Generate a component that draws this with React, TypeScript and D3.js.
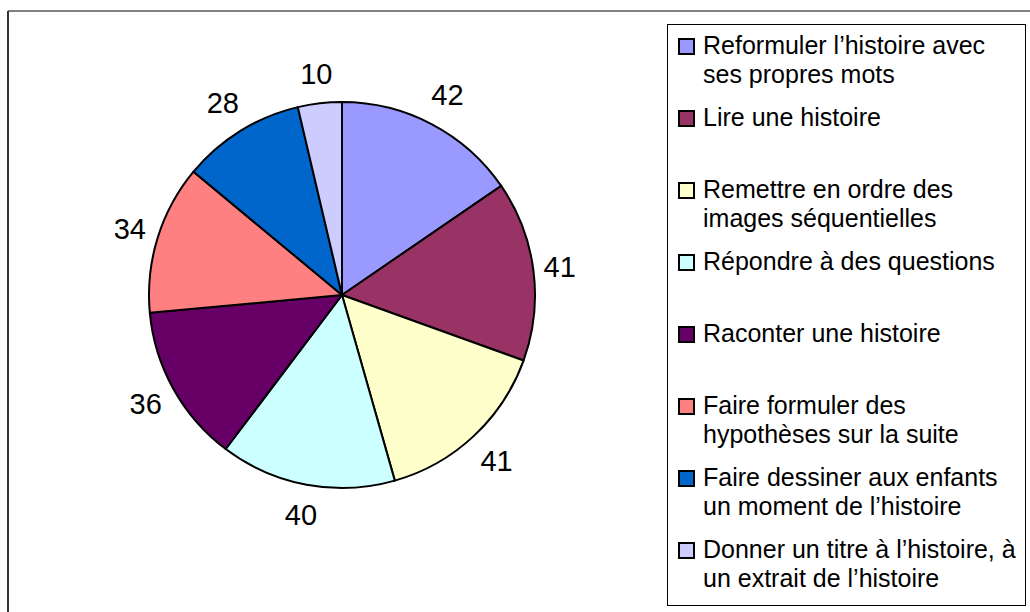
import React from "react";
import * as d3 from "d3";

const categories = [
  ["Reformuler l’histoire avec", "ses propres mots"],
  ["Lire une histoire"],
  ["Remettre en ordre des", "images séquentielles"],
  ["Répondre à des questions"],
  ["Raconter une histoire"],
  ["Faire formuler des", "hypothèses sur la suite"],
  ["Faire dessiner aux enfants", "un moment de l’histoire"],
  ["Donner un titre à l’histoire, à", "un extrait de l’histoire"],
];
const values = [42, 41, 41, 40, 36, 34, 28, 10];
const colors = ["#9999FF", "#993366", "#FFFFCC", "#CCFFFF", "#660066", "#FF8080", "#0066CC", "#CCCCFF"];

export default function App() {
  const cx = 342;
  const cy = 295;
  const r = 193;
  const pie = d3.pie<number>().sort(null).value((d) => d);
  const arcs = pie(values);
  const arcGen = d3.arc<d3.PieArcDatum<number>>().innerRadius(0).outerRadius(r);
  const gap = 8;
  const boxHalfW = 16;
  const boxHalfH = 20;
  const font = "Arial, 'Liberation Sans', sans-serif";

  const legendX = 667;
  const legendY = 24;
  const entryStep = 72;
  const firstBaseline = 54;
  const lineH = 29;

  return (
    <svg
      width={1030}
      height={612}
      style={{ position: "absolute", left: 0, top: 0, background: "#fff" }}
      fontFamily={font}
    >
      <rect x={0} y={0} width={1030} height={612} fill="#fff" />
      <line x1={8} y1={11} x2={1030} y2={11} stroke="#000" strokeWidth={1} />
      <line x1={8} y1={11} x2={8} y2={612} stroke="#333" strokeWidth={2} />
      <g transform={`translate(${cx},${cy})`}>
        {arcs.map((a, i) => (
          <path key={i} d={arcGen(a) || ""} fill={colors[i]} stroke="#000" strokeWidth={2} strokeLinejoin="round" />
        ))}
        {arcs.map((a, i) => {
          const mid = (a.startAngle + a.endAngle) / 2;
          const s = Math.sin(mid);
          const c = Math.cos(mid);
          const d = r + gap + boxHalfW * Math.abs(s) + boxHalfH * Math.abs(c);
          const x = d * s;
          const y = -d * c;
          return (
            <text key={i} x={x} y={y + 10} textAnchor="middle" fontSize={29} fill="#000">
              {values[i]}
            </text>
          );
        })}
      </g>
      <rect x={legendX + 0.5} y={legendY + 0.5} width={358} height={581} fill="none" stroke="#000" strokeWidth={1} />
      {categories.map((lines, i) => {
        const base = firstBaseline + i * entryStep;
        return (
          <g key={i}>
            <rect x={679} y={base - 15} width={15} height={15} fill={colors[i]} stroke="#000" strokeWidth={2} />
            {lines.map((t, j) => (
              <text key={j} x={703} y={base + j * lineH} fontSize={25} fill="#000">
                {t}
              </text>
            ))}
          </g>
        );
      })}
    </svg>
  );
}
